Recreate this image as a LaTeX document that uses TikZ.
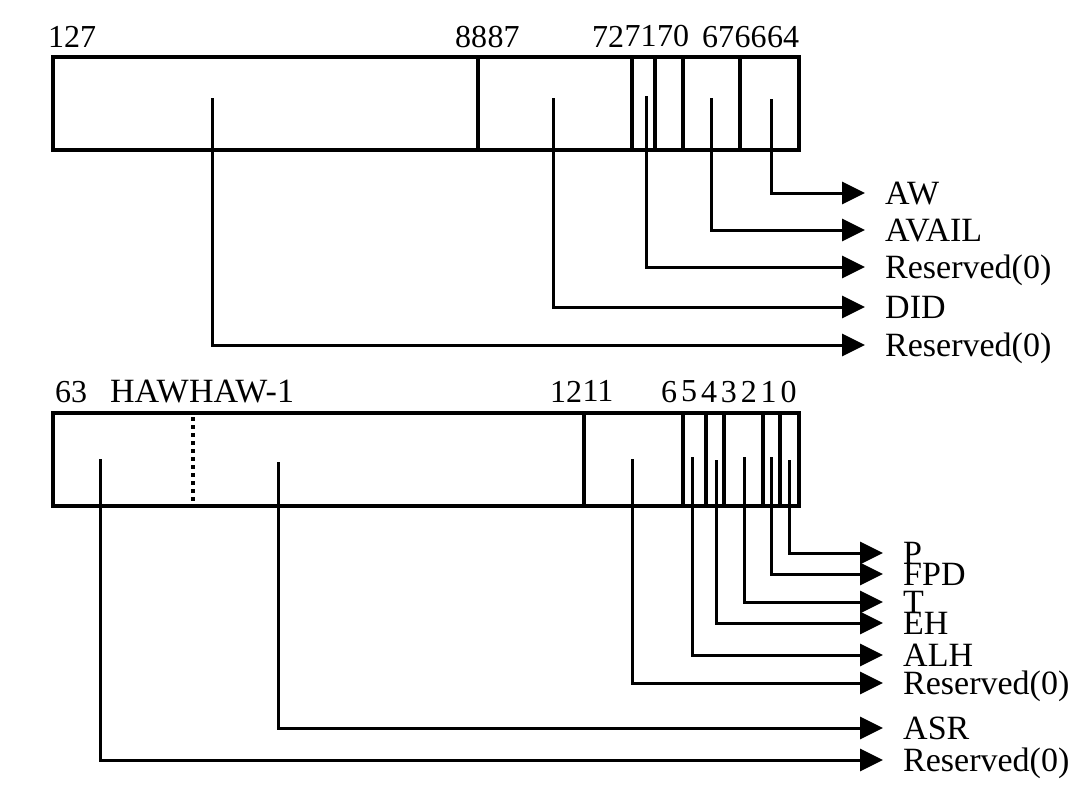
\documentclass[tikz,border=0pt]{standalone}
\usepackage{fontspec}
\setmainfont{Liberation Serif}
\usetikzlibrary{positioning}
\usetikzlibrary{arrows.meta}

\begin{document}
\begin{tikzpicture}[x=1pt,y=-1pt,auto,node distance=0,on grid=false,
    box/.style={line width=3.5pt},
    arr/.style={line width=3pt,-{Triangle[length=23pt,width=22pt]}},
    bit/.style={anchor=base west,inner sep=0pt,font=\fontsize{32}{38}\selectfont},
    bitw/.style={bit,font=\fontsize{34}{40}\selectfont},
    lab/.style={anchor=west,inner xsep=20pt,inner ysep=0pt,text height=22.5pt,text depth=0pt,font=\fontsize{34}{40}\selectfont}]
\useasboundingbox (0,0) rectangle (1080,795);

    % Upper register
    \draw[box] (53,57) rectangle (799,150);
    \foreach \x in {478,632,655,683,740} \draw[box] (\x,57) -- (\x,150);

    % Place bit numbers
    \node [bit] (b127) at (48,47) {127};
    \node [bit] (b88) at (455,47) {88};
    \node [bit,right=of b88] (b87) {87};
    \node [bit] (b72) at (592,47) {72};
    \node [bit,right=of b72] (b71) {71};
    \node [bit,right=of b71] (b70) {70};
    \node [bit] (b67) at (702,47) {67};
    \node [bit,right=of b67] (b66) {66};
    \node [bit,right=of b66] (b64) {64};

    % Place fields
    \coordinate (sAW) at (771,99);
    \coordinate (sAVAIL) at (711,98);
    \coordinate (sResA) at (646,96);
    \coordinate (sDID) at (553,98);
    \coordinate (sResB) at (212,98);
    \node [lab] (lAW) at (865,193) {AW};
    \node [lab] (lAVAIL) at (865,230) {AVAIL};
    \node [lab] (lResA) at (865,267) {Reserved(0)};
    \node [lab] (lDID) at (865,307) {DID};
    \node [lab] (lResB) at (865,345) {Reserved(0)};
    \draw[arr] (sAW) |- (lAW.west);
    \draw[arr] (sAVAIL) |- (lAVAIL.west);
    \draw[arr] (sResA) |- (lResA.west);
    \draw[arr] (sDID) |- (lDID.west);
    \draw[arr] (sResB) |- (lResB.west);

    % Lower register
    \draw[box] (53,413) rectangle (799,506);
    \foreach \x in {584,683,706,724,763,780} \draw[box] (\x,413) -- (\x,506);
    \draw[box,dash pattern=on 4pt off 4pt] (193,417) -- (193,506);

    % Place bit numbers
    \node [bit] (b63) at (55,402) {63};
    \node [bitw] (bhaw) at (110,402) {HAW};
    \node [bitw,right=of bhaw] (bhawm) {HAW-1};
    \node [bit] (b12) at (550,402) {12};
    \node [bit,right=of b12] (b11) {11};
    \node [bit] (b6) at (661,402) {6};
    \node [bit,right=3.5pt of b6] (b5) {5};
    \node [bit,right=3.5pt of b5] (b4) {4};
    \node [bit,right=3.5pt of b4] (b3) {3};
    \node [bit,right=3.5pt of b3] (b2) {2};
    \node [bit,right=3.5pt of b2] (b1) {1};
    \node [bit,right=3.5pt of b1] (b0) {0};

    % Place fields
    \coordinate (sP) at (789,460);
    \coordinate (sFPD) at (771,457);
    \coordinate (sT) at (744,457);
    \coordinate (sEH) at (716,460);
    \coordinate (sALH) at (692,457);
    \coordinate (sResC) at (632,459);
    \coordinate (sASR) at (278,462);
    \coordinate (sResD) at (100,459);
    \node [lab] (lP) at (883,553) {P};
    \node [lab] (lFPD) at (883,574) {FPD};
    \node [lab] (lT) at (883,602) {T};
    \node [lab] (lEH) at (883,623) {EH};
    \node [lab] (lALH) at (883,655) {ALH};
    \node [lab] (lResC) at (883,683) {Reserved(0)};
    \node [lab] (lASR) at (883,728) {ASR};
    \node [lab] (lResD) at (883,760) {Reserved(0)};
    \draw[arr] (sP) |- (lP.west);
    \draw[arr] (sFPD) |- (lFPD.west);
    \draw[arr] (sT) |- (lT.west);
    \draw[arr] (sEH) |- (lEH.west);
    \draw[arr] (sALH) |- (lALH.west);
    \draw[arr] (sResC) |- (lResC.west);
    \draw[arr] (sASR) |- (lASR.west);
    \draw[arr] (sResD) |- (lResD.west);

\end{tikzpicture}
\end{document}
